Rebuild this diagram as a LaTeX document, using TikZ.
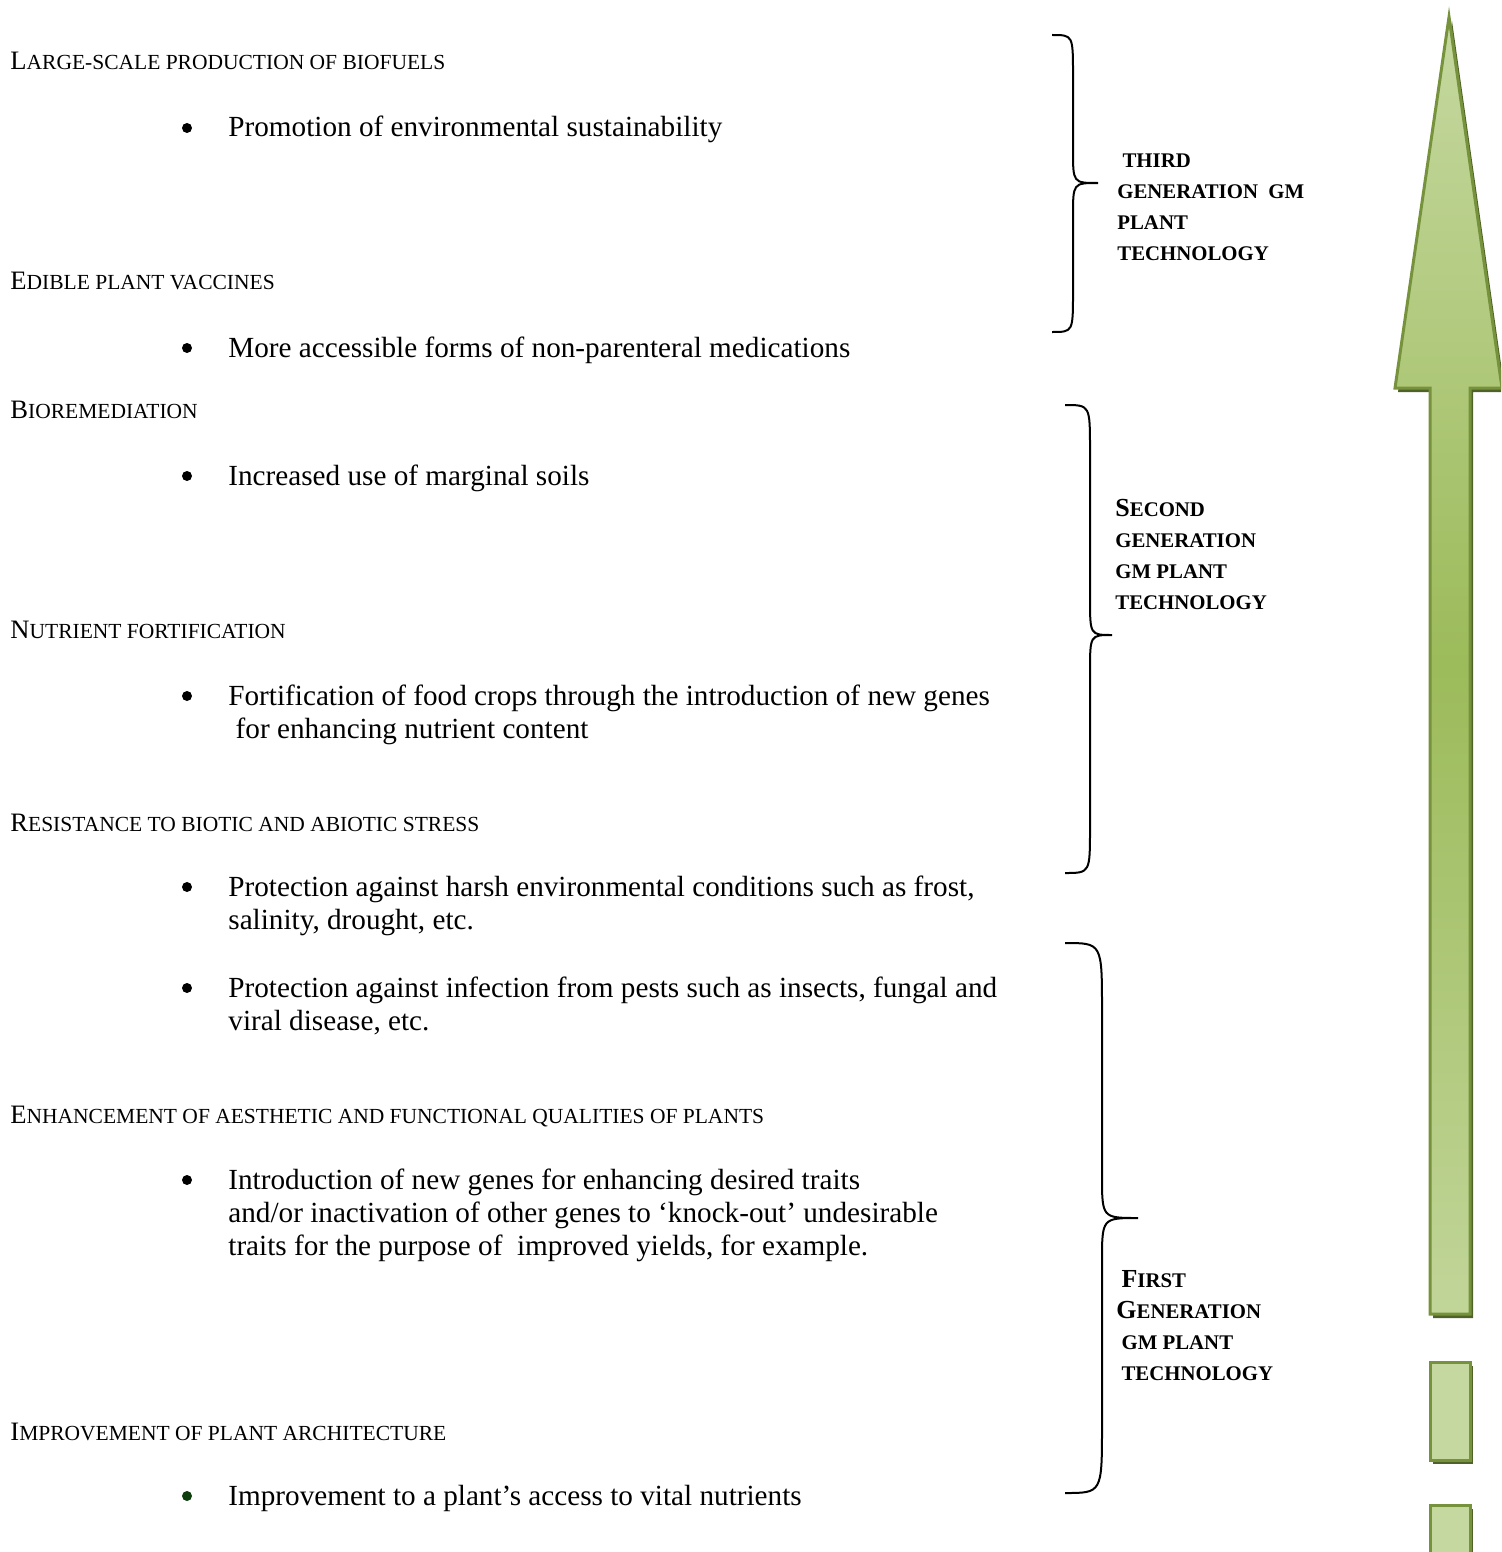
\documentclass[tikz,border=0pt]{standalone}
\usepackage{fontspec}
\setmainfont{Liberation Serif}
\definecolor{arrowline}{HTML}{76923C}
\definecolor{arrowshadow}{HTML}{4F6228}
\definecolor{lightgreen}{HTML}{C5D8A0}
\definecolor{midgreen}{HTML}{9CBB5A}
\definecolor{bulletgreen}{HTML}{0E3E0E}
\newcommand\hsc[2]{{\fontsize{13.3}{13.3}\selectfont #1}{\fontsize{10.75}{10.75}\selectfont #2}}
\newcommand\lbig[1]{{\fontsize{13}{13}\selectfont\bfseries #1}}
\begin{document}
\begin{tikzpicture}[x=0.5pt,y=-0.5pt,
  heading/.style={anchor=base west,inner sep=0pt},
  bodytext/.style={anchor=base west,inner sep=0pt,font=\fontsize{14.6}{16.5}\selectfont,align=left},
  genlabel/.style={anchor=base west,inner sep=0pt,font=\fontsize{10.4}{15.5}\selectfont\bfseries,align=left},
  bracestyle/.style={line width=1pt},
  bulletdot/.style={circle,fill=black,inner sep=0pt,minimum size=5pt}]
\useasboundingbox (0,0) rectangle (1501,1552);

% arrow
\begin{scope}
\clip (0,0) rectangle (1501,1552);
\fill[arrowshadow] (1452,21) -- (1505,392) -- (1473,392) -- (1473,1318) -- (1433,1318) -- (1433,392) -- (1398,392) -- cycle;
\draw[arrowline,line width=1.5pt,top color=lightgreen,bottom color=lightgreen!90!midgreen,middle color=midgreen]
  (1449,17) -- (1502,388) -- (1470,388) -- (1470,1314) -- (1430,1314) -- (1430,388) -- (1395,388) -- cycle;
\fill[arrowshadow] (1433,1366) rectangle (1473,1464);
\draw[arrowline,line width=1.5pt,fill=lightgreen] (1430,1362) rectangle (1470,1460);
\fill[arrowshadow] (1433,1509) rectangle (1473,1570);
\draw[arrowline,line width=1.5pt,fill=lightgreen] (1430,1505) rectangle (1470,1570);
\end{scope}

% headings
\node[heading] (h1) at (10,70) {\hsc{L}{ARGE-SCALE PRODUCTION OF BIOFUELS}};
\node[heading] (h2) at (10,289) {\hsc{E}{DIBLE PLANT VACCINES}};
\node[heading] (h3) at (10,418) {\hsc{B}{IOREMEDIATION}};
\node[heading] (h4) at (10,638) {\hsc{N}{UTRIENT FORTIFICATION}};
\node[heading] (h5) at (10,831) {\hsc{R}{ESISTANCE TO BIOTIC AND ABIOTIC STRESS}};
\node[heading] (h6) at (10,1123) {\hsc{E}{NHANCEMENT OF AESTHETIC AND FUNCTIONAL QUALITIES OF PLANTS}};
\node[heading] (h7) at (10,1440) {\hsc{I}{MPROVEMENT OF PLANT ARCHITECTURE}};

% bullets (node placed at the baseline of its last line)
\node[bodytext] (b1) at (228,137) {Promotion of environmental sustainability};
\node[bodytext] (b2) at (228,357) {More accessible forms of non-parenteral medications};
\node[bodytext] (b3) at (228,485) {Increased use of marginal soils};
\node[bodytext] (b4) at (228,738) {Fortification of food crops through the introduction of new genes\\\ for enhancing nutrient content};
\node[bodytext] (b5) at (228,929) {Protection against harsh environmental conditions such as frost,\\salinity, drought, etc.};
\node[bodytext] (b6) at (228,1030) {Protection against infection from pests such as insects, fungal and\\viral disease, etc.};
\node[bodytext] (b7) at (228,1255) {Introduction of new genes for enhancing desired traits\\and/or inactivation of other genes to ‘knock-out’ undesirable\\traits for the purpose of \ improved yields, for example.};
\node[bodytext] (b8) at (228,1505) {Improvement to a plant’s access to vital nutrients};

\node[bulletdot] (d1) at (187,128) {};
\node[bulletdot] (d2) at (187,348) {};
\node[bulletdot] (d3) at (187,476) {};
\node[bulletdot] (d4) at (187,696) {};
\node[bulletdot] (d5) at (187,887) {};
\node[bulletdot] (d6) at (187,988) {};
\node[bulletdot] (d7) at (187,1180) {};
\node[bulletdot,fill=bulletgreen] (d8) at (187,1496) {};

% braces
\draw[bracestyle] (1052,35) .. controls (1073,35) .. (1073,75) -- (1073,150) .. controls (1073,183) .. (1098,183)
  .. controls (1073,183) .. (1073,216) -- (1073,292) .. controls (1073,332) .. (1052,332);
\draw[bracestyle] (1065,405) .. controls (1090,405) .. (1090,450) -- (1090,598) .. controls (1090,635) .. (1112,635)
  .. controls (1090,635) .. (1090,672) -- (1090,828) .. controls (1090,873) .. (1065,873);
\draw[bracestyle] (1065,943) .. controls (1102,943) .. (1102,1010) -- (1102,1175) .. controls (1102,1218) .. (1138,1218)
  .. controls (1102,1218) .. (1102,1262) -- (1102,1425) .. controls (1102,1493) .. (1065,1493);

% labels (node placed at the baseline of its last line)
\node[genlabel] (l3) at (1117,260) {\ THIRD\\GENERATION \ GM\\PLANT\\TECHNOLOGY};
\node[genlabel] (l2) at (1115,609) {\lbig{S}ECOND\\GENERATION\\GM PLANT\\TECHNOLOGY};
\node[genlabel] (l1) at (1116,1380) {\ \lbig{F}IRST\\\lbig{G}ENERATION\\\ GM PLANT\\\ TECHNOLOGY};
\end{tikzpicture}
\end{document}
